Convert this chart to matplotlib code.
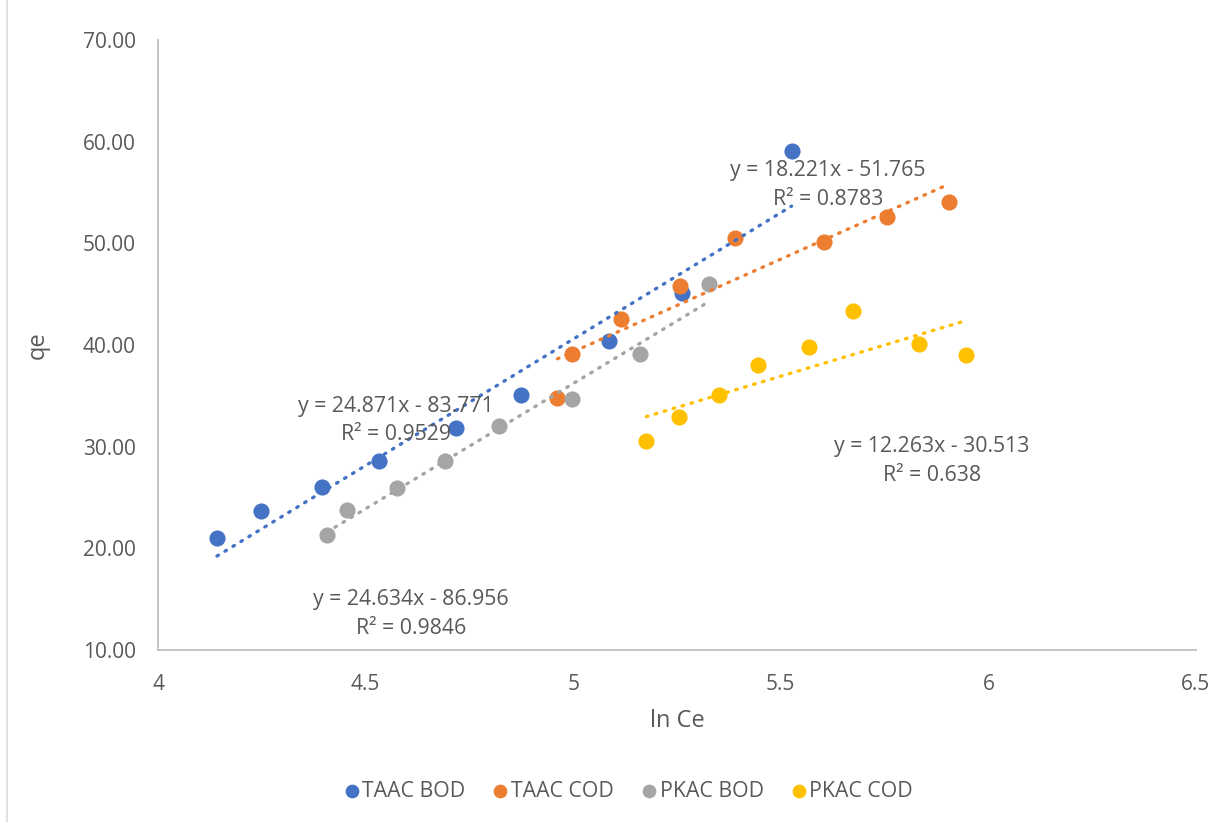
import matplotlib
matplotlib.use("Agg")
import matplotlib.pyplot as plt
import numpy as np

# datos
taac_bod_x = [4.142, 4.248, 4.395, 4.533, 4.718, 4.875, 5.087, 5.263, 5.526]
taac_bod_y = [21.02, 23.67, 26.03, 28.59, 31.84, 35.08, 40.39, 45.11, 59.08]

taac_cod_x = [4.962, 4.998, 5.114, 5.258, 5.389, 5.603, 5.755, 5.905]
taac_cod_y = [34.79, 39.12, 42.56, 45.80, 50.53, 50.13, 52.59, 54.07]

pkac_bod_x = [4.407, 4.456, 4.576, 4.692, 4.822, 4.998, 5.160, 5.328]
pkac_bod_y = [21.31, 23.77, 25.94, 28.59, 32.03, 34.69, 39.12, 46.00]

pkac_cod_x = [5.176, 5.254, 5.352, 5.444, 5.569, 5.673, 5.832, 5.946]
pkac_cod_y = [30.56, 32.92, 35.08, 38.03, 39.80, 43.35, 40.10, 39.02]

# pendiente, intercepto, R2 de las lineas de tendencia
ajustes = {
    'TAAC BOD': (24.871, -83.771, '0.9529'),
    'TAAC COD': (18.221, -51.765, '0.8783'),
    'PKAC BOD': (24.634, -86.956, '0.9846'),
    'PKAC COD': (12.263, -30.513, '0.638'),
}

series = [
    ('TAAC BOD', taac_bod_x, taac_bod_y, '#4472C4', (4.574, 32.6)),
    ('TAAC COD', taac_cod_x, taac_cod_y, '#ED7D31', (5.613, 55.74)),
    ('PKAC BOD', pkac_bod_x, pkac_bod_y, '#A5A5A5', (4.61, 13.54)),
    ('PKAC COD', pkac_cod_x, pkac_cod_y, '#FFC000', (5.864, 28.59)),
]

plt.rcParams['font.family'] = ['Open Sans', 'DejaVu Sans']
gris_texto = '#595959'

fig = plt.figure(figsize=(12.29, 8.22), dpi=100)
ax = fig.add_axes([0.1286, 0.2092, 0.9731 - 0.1286, 0.9513 - 0.2092])

for nombre, xs, ys, color, pos in series:
    ax.scatter(xs, ys, s=135, color=color, label=nombre, zorder=3, linewidths=0)

for nombre, xs, ys, color, pos in series:
    m, b, r2 = ajustes[nombre]
    xx = np.array([min(xs), max(xs)])
    ax.plot(xx, m * xx + b, color=color, linewidth=2.4,
            linestyle=(0, (0.5, 2.3)), dash_capstyle='round', zorder=4)
    signo = '-' if b < 0 else '+'
    texto = 'y = %gx %s %g\nR² = %s' % (m, signo, abs(b), r2)
    ax.text(pos[0], pos[1], texto, ha='center', va='center', multialignment='center',
            fontsize=15.3, color=gris_texto, linespacing=1.45, zorder=5)

ax.set_xlim(4, 6.5)
ax.set_ylim(10, 70)
ax.set_xticks([4, 4.5, 5, 5.5, 6, 6.5])
ax.set_xticklabels(['4', '4.5', '5', '5.5', '6', '6.5'])
ax.set_yticks(np.arange(10, 71, 10))
ax.set_yticklabels(['%.2f' % v for v in np.arange(10, 71, 10)])
ax.tick_params(axis='both', length=0, labelsize=15, labelcolor=gris_texto)
ax.tick_params(axis='y', pad=16)
ax.tick_params(axis='x', pad=17)

for lado in ['top', 'right']:
    ax.spines[lado].set_visible(False)
for lado in ['left', 'bottom']:
    ax.spines[lado].set_color('#BFBFBF')
    ax.spines[lado].set_linewidth(1.3)

ax.set_xlabel('ln Ce', fontsize=17, color=gris_texto, labelpad=10)
ax.set_ylabel('qe', fontsize=17, color=gris_texto, labelpad=24)

fig.legend(loc='center', bbox_to_anchor=(0.511, 0.0377), ncol=4, frameon=False,
           fontsize=15.3, labelcolor=gris_texto, handlelength=0.8, handletextpad=0.1,
           columnspacing=1.25, markerscale=0.85)

# borde del area del grafico
fig.add_artist(plt.Line2D([7 / 1229, 7 / 1229], [0, 1], color='#D9D9D9',
                          linewidth=1.2, transform=fig.transFigure))

fig.savefig('out.png', dpi=100, facecolor='white')
